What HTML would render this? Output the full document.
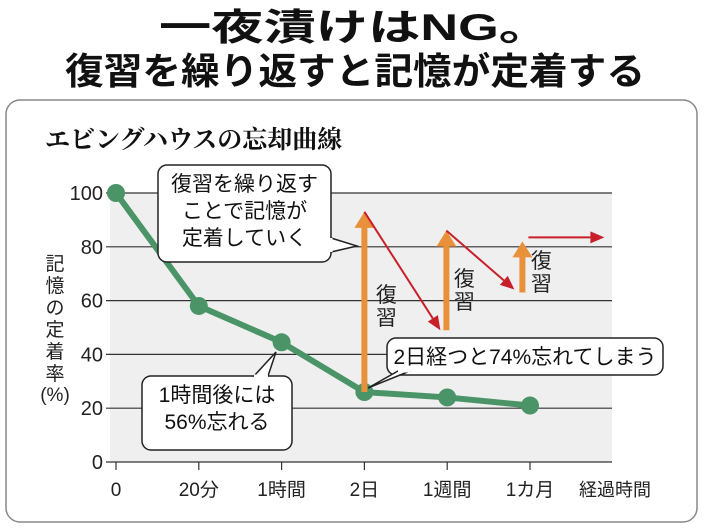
<!DOCTYPE html>
<html><head><meta charset="utf-8"><style>
html,body{margin:0;padding:0;background:#fff;}
svg{display:block;font-family:"Liberation Sans","Noto Sans CJK JP",sans-serif;}
</style></head><body>
<svg id="c" width="710" height="528" viewBox="0 0 710 528">
<text x="355" y="40" text-anchor="middle" font-size="37" font-weight="bold" fill="#111" textLength="392" lengthAdjust="spacingAndGlyphs">一夜漬けはNG。</text>
<text x="355" y="84" text-anchor="middle" font-size="37" font-weight="bold" fill="#111" textLength="580" lengthAdjust="spacingAndGlyphs">復習を繰り返すと記憶が定着する</text>
<rect x="6" y="100" width="691" height="422" rx="14" fill="#fff" stroke="#888" stroke-width="1.5"/>
<text x="45" y="148" font-size="25" font-weight="bold" fill="#111" font-family="'Liberation Serif','Noto Serif CJK SC',serif">エビングハウスの忘却曲線</text>
<rect x="110" y="193" width="502" height="269" fill="#efefef"/>
<g id="grid"></g>
<g id="marks"></g>
<g font-size="19" fill="#222" text-anchor="middle">
<text x="55" y="270">記</text><text x="55" y="292">憶</text><text x="55" y="314">の</text><text x="55" y="336">定</text><text x="55" y="358">着</text><text x="55" y="380">率</text><text x="55" y="401">(%)</text>
</g>
<text x="615" y="496" font-size="18" fill="#222" text-anchor="middle">経過時間</text>
<g id="arrows"></g>
<g id="callouts"></g>
</svg>
<script>
const categories=["0","20分","1時間","2日","1週間","1カ月"];
const retention=[100,58,44.5,26,24,21];
const yTicks=[0,20,40,60,80,100];
const reviewFrom=[26,49,63];
const reviewTo=[93,86,82];
const ns="http://www.w3.org/2000/svg";
const x0=116,dx=82.8,yb=462,ky=2.69;
function X(i){return x0+i*dx;}
function Y(v){return yb-v*ky;}
function mk(tag,attrs,parent,text){const e=document.createElementNS(ns,tag);for(const k in attrs)e.setAttribute(k,attrs[k]);if(text!==undefined)e.textContent=text;parent.appendChild(e);return e;}
const grid=document.getElementById('grid');
yTicks.forEach(t=>{
  const l=mk('line',{x1:106,x2:612,y1:Y(t),y2:Y(t),stroke:'#333','stroke-width':1.2},grid);
  
  
  const tx=mk('text',{x:103,y:Y(t)+7,'text-anchor':'end','font-size':20,fill:'#222'},grid,t);
  
  
});
categories.forEach((c,i)=>{
  const l=mk('line',{x1:X(i),x2:X(i),y1:yb,y2:yb+8,stroke:'#333','stroke-width':1.2},grid);
  
  
  const tx=mk('text',{x:X(i),y:yb+34,'text-anchor':'middle','font-size':19,fill:'#222'},grid,c);
  
  
});
const marks=document.getElementById('marks');
const pts=retention.map((v,i)=>X(i)+','+Y(v)).join(' ');
const pl=mk('polyline',{points:pts,fill:'none',stroke:'#4a9468','stroke-width':6,'stroke-linejoin':'round'},marks);


retention.forEach((v,i)=>{
  const c=mk('circle',{cx:X(i),cy:Y(v),r:9,fill:'#4a9468'},marks);
  
  
});
const ar=document.getElementById('arrows');
const ax=[X(3),X(3)+82,X(3)+158];
function orangeArrow(x,yf,yt){
  const g=mk('g',{},ar);
  
  
  mk('line',{x1:x,x2:x,y1:Y(yf),y2:Y(yt)+14,stroke:'#e8913a','stroke-width':6},g);
  mk('polygon',{points:`${x-10},${Y(yt)+16} ${x+10},${Y(yt)+16} ${x},${Y(yt)}`,fill:'#e8913a'},g);
}
function redArrow(x1,y1,x2,y2){
  const g=mk('g',{},ar);
  
  
  const a=Math.atan2(y2-y1,x2-x1),L=14,W=6;
  const bx=x2-L*Math.cos(a),by=y2-L*Math.sin(a);
  mk('line',{x1:x1,y1:y1,x2:bx,y2:by,stroke:'#c8202a','stroke-width':2},g);
  mk('polygon',{points:`${x2},${y2} ${bx+W*Math.sin(a)},${by-W*Math.cos(a)} ${bx-W*Math.sin(a)},${by+W*Math.cos(a)}`,fill:'#c8202a'},g);
}
reviewFrom.forEach((f,i)=>orangeArrow(ax[i],f,reviewTo[i]));
redArrow(ax[0],Y(reviewTo[0]),ax[1]-6,Y(reviewFrom[1]));
redArrow(ax[1],Y(reviewTo[1]),ax[2]-8,Y(reviewFrom[2])-3);
redArrow(ax[2]+6,Y(83.5),ax[2]+82,Y(83.5));
[[ax[0]+22,302],[ax[1]+18,286],[ax[2]+19,268]].forEach(p=>{
  const t=mk('text',{x:p[0],y:p[1],'font-size':21,fill:'#222','text-anchor':'middle'},ar);
  
  
  mk('tspan',{x:p[0],dy:0},t,'復');
  mk('tspan',{x:p[0],dy:23},t,'習');
});
const cg=document.getElementById('callouts');
function callout(name,x,y,w,h,tail,lines,fs){
  const g=document.createElementNS(ns,'g');cg.appendChild(g);
  
  
  mk('rect',{x:x,y:y,width:w,height:h,rx:9,fill:'#fff',stroke:'#222','stroke-width':1.5},g);
  mk('polygon',{points:tail.join(' '),fill:'#fff',stroke:'#222','stroke-width':1.5},g);
  mk('line',{x1:tail[0].split(',')[0],y1:tail[0].split(',')[1],x2:tail[2].split(',')[0],y2:tail[2].split(',')[1],stroke:'#fff','stroke-width':3},g);
  lines.forEach((l,i)=>mk('text',{x:x+w/2,y:y+fs+5+i*(fs+6),'text-anchor':'middle','font-size':fs,fill:'#111'},g,l));
}
callout('callout-repetition',158,165,173,97,['331,238','357,246','331,252'],['復習を繰り返す','ことで記憶が','定着していく'],21);
callout('callout-one-hour',142,376,150,74,['254,376','276,352','268,376'],['1時間後には','56%忘れる'],21);
callout('callout-two-days',387,338,276,37,['398,371','368,388','410,371'],['2日経つと74%忘れてしまう'],21);
</script>
</body></html>
